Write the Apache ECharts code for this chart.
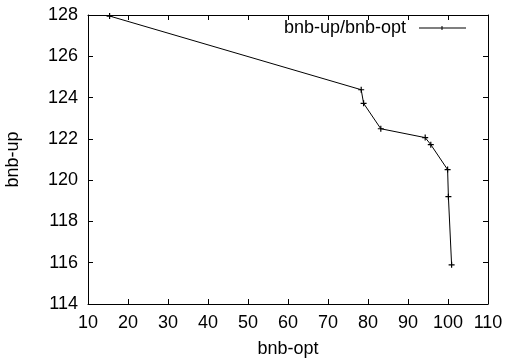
<!DOCTYPE html>
<html>
<head>
<meta charset="utf-8">
<script src="https://cdn.jsdelivr.net/npm/echarts@6/dist/echarts.min.js"></script>
<style>
  html, body { margin: 0; padding: 0; background: #fff; }
  #chart { width: 506px; height: 362px; }
</style>
</head>
<body>
<div id="chart"></div>
<script>
// bnb-opt (x) vs bnb-up (y)
const bnbOpt = [15.4, 78.3, 78.9, 83.2, 94.3, 95.7, 99.9, 100.1, 100.9];
const bnbUp = [127.95, 124.38, 123.72, 122.49, 122.06, 121.72, 120.51, 119.2, 115.9];
const seriesName = "bnb-up/bnb-opt";

const font = "Liberation Sans";
const labelStyle = { color: "#000", fontSize: 18, fontFamily: font };

const chart = echarts.init(document.getElementById("chart"), null, { renderer: "canvas" });

const xBase = {
  type: "value",
  min: 10,
  max: 110,
  interval: 10,
  splitLine: { show: false },
  axisLine: { show: true, onZero: false, lineStyle: { color: "#000", width: 1 } },
  axisTick: { show: true, inside: true, length: 5, lineStyle: { color: "#000" } },
};
const yBase = {
  type: "value",
  min: 114,
  max: 128,
  interval: 2,
  splitLine: { show: false },
  axisLine: { show: true, onZero: false, lineStyle: { color: "#000", width: 1 } },
  axisTick: { show: true, inside: true, length: 5, lineStyle: { color: "#000" } },
};

// legend sample: key text, then a line with a small "+" in the middle (gnuplot style)
const legendIcon =
  "path://M0,0h0.01v0.01h-0.01Z M55,14h-0.01v-0.01h0.01Z " +
  "M8,6.5H55V7.5H8Z M30.5,5H31.5V9H30.5Z";

const option = {
  backgroundColor: "#fff",
  animation: false,
  grid: { left: 88, right: 18, top: 15, bottom: 58, outerBoundsMode: "none", containLabel: false },
  legend: {
    right: 40,
    top: 19,
    padding: 0,
    align: "right",
    itemWidth: 55,
    itemHeight: 14,
    textStyle: labelStyle,
    data: [{ name: seriesName, icon: legendIcon }],
  },
  xAxis: [
    {
      ...xBase,
      position: "bottom",
      name: "bnb-opt",
      nameLocation: "middle",
      nameGap: 36,
      nameTextStyle: labelStyle,
      axisLabel: { ...labelStyle, margin: 10 },
    },
    { ...xBase, position: "top", axisLabel: { show: false } },
  ],
  yAxis: [
    {
      ...yBase,
      position: "left",
      name: "bnb-up",
      nameLocation: "middle",
      nameGap: 66,
      nameTextStyle: labelStyle,
      axisLabel: { ...labelStyle, margin: 10 },
    },
    { ...yBase, position: "right", axisLabel: { show: false } },
  ],
  series: [
    {
      name: seriesName,
      type: "line",
      data: bnbOpt.map((x, i) => [x, bnbUp[i]]),
      symbol: "path://M2,0H3V2H5V3H3V5H2V3H0V2H2Z",
      symbolSize: 6,
      showAllSymbol: true,
      itemStyle: { color: "#000" },
      lineStyle: { color: "#000", width: 1 },
    },
  ],
};

chart.setOption(option);
window.addEventListener("resize", () => chart.resize());
</script>
</body>
</html>
